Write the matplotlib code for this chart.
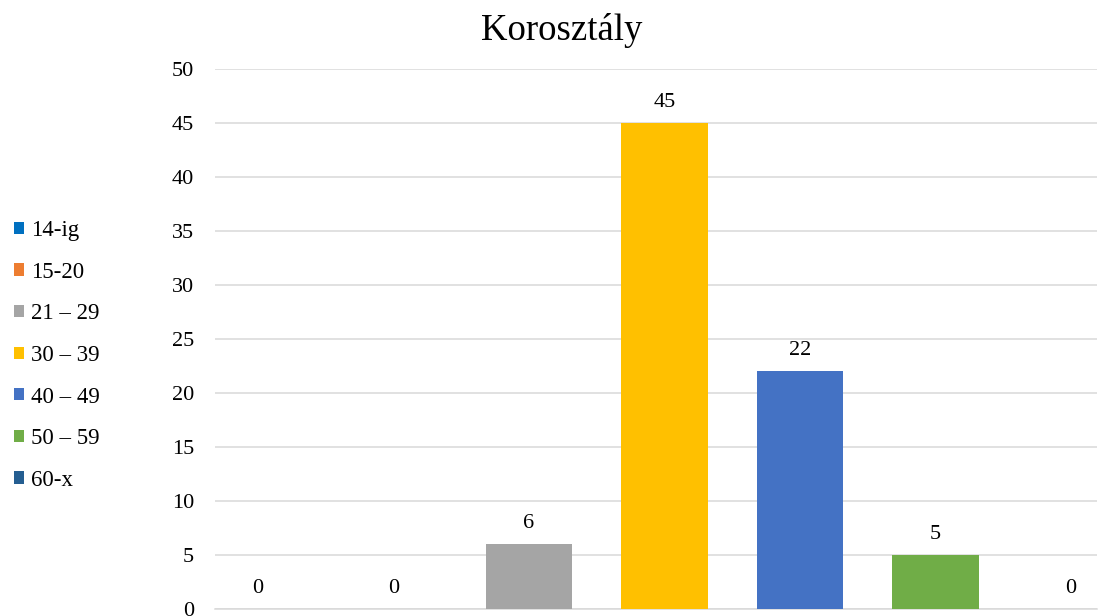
import matplotlib.pyplot as plt

categories = ["14-ig", "15-20", "21 – 29", "30 – 39", "40 – 49", "50 – 59", "60-x"]
values = [0, 0, 6, 45, 22, 5, 0]
colors = ["#0070C0", "#ED7D31", "#A5A5A5", "#FFC000", "#4472C4", "#70AD47", "#255E91"]

plt.rcParams["font.family"] = ["Liberation Serif", "DejaVu Serif"]

fig = plt.figure(figsize=(10.99, 6.16), dpi=100)
ax = fig.add_axes([215 / 1099, 1 - 609 / 616, 882 / 1099, 540 / 616])

for i, (cat, val, col) in enumerate(zip(categories, values, colors)):
    bars = ax.bar(i, val, width=0.64, color=col, label=cat, zorder=3)
    ax.bar_label(bars, padding=8, fontsize=16, color="#000000")

# category spacing ~135.5 px, first slot centre at x=258
ax.set_xlim(-(258 - 215) / 135.5, (1097 - 258) / 135.5)
ax.set_ylim(0, 50)
ax.set_yticks(range(0, 51, 5))
ax.yaxis.grid(True, color="#D9D9D9", linewidth=1.1, zorder=0)
ax.set_xticks([])
ax.tick_params(axis="y", length=0, pad=15, labelsize=16)
for side in ["top", "right", "left"]:
    ax.spines[side].set_visible(False)
ax.spines["bottom"].set_color("#D9D9D9")
ax.spines["bottom"].set_linewidth(1.1)

fig.text(562 / 1099, 1 - 31 / 616, "Korosztály", ha="center", va="center", fontsize=26.5)

ax.legend(loc="upper left", bbox_to_anchor=(14 / 1099, 1 - 220 / 616),
          bbox_transform=fig.transFigure, frameon=False, fontsize=16.5,
          handlelength=0.44, handleheight=0.44, handletextpad=0.3,
          labelspacing=0.9, borderpad=0, borderaxespad=0)

fig.savefig("out.png", dpi=100)
